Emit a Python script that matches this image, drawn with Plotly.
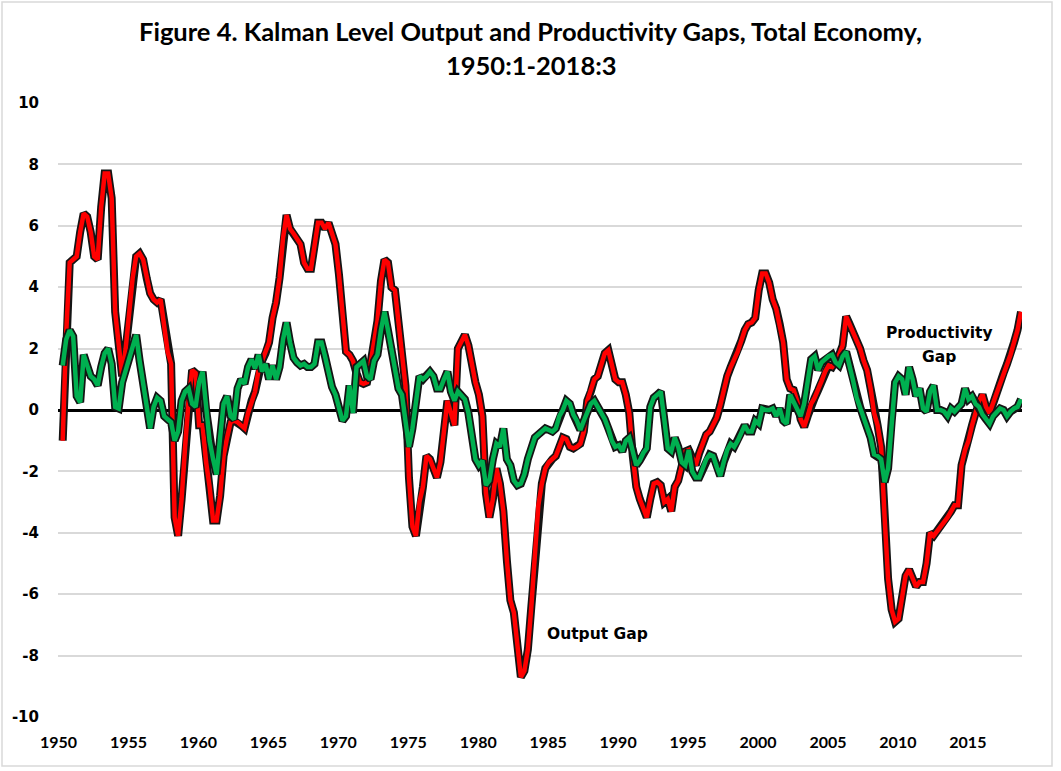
import plotly.graph_objects as go

# Quarterly data, 1950:1 - 2018:3
start_year = 1950
output_gap = [
    -1.0, 2.5, 4.8, 4.9, 5.0, 5.8, 6.4, 6.3, 5.8, 5.0, 4.9, 6.6, 7.7, 7.7, 6.9, 3.2,
    2.0, 1.1, 2.0, 3.2, 4.3, 5.0, 5.1, 4.9, 4.3, 3.8, 3.6, 3.5, 3.6, 2.8, 1.9, 1.5,
    -3.5, -4.1, -2.9, -1.2, 0.3, 1.3, 1.2, -0.5, -0.5, -1.7, -2.5, -3.6, -3.6, -2.8, -1.5, -0.9,
    -0.4, -0.35, -0.4, -0.5, -0.6, -0.1, 0.3, 0.6, 1.3, 1.6, 1.85, 2.2, 3.0, 3.5, 4.3, 5.6,
    6.35, 5.9, 5.75, 5.6, 5.4, 4.8, 4.6, 4.6, 5.4, 6.1, 6.1, 5.9, 6.1, 5.7, 5.4, 4.4,
    3.0, 1.9, 1.8, 1.6, 1.2, 0.9, 0.85, 0.9, 1.5, 2.3, 2.9, 4.2, 4.9, 4.8, 4.0, 3.9,
    2.8, 1.8, 0.8, -2.2, -3.8, -4.1, -3.0, -2.5, -1.5, -1.6, -1.9, -2.2, -1.7, -0.6, 0.3, -0.1,
    -0.5, 2.0, 2.2, 2.45, 2.1, 1.4, 0.9, 0.5, -0.2, -2.7, -3.5, -2.9, -1.9, -2.4, -3.3, -4.9,
    -6.2, -6.6, -7.6, -8.7, -8.5, -7.8, -6.4, -4.8, -3.1, -2.4, -1.9, -1.7, -1.6, -1.5, -1.2, -0.9,
    -0.95, -1.2, -1.25, -1.2, -1.1, -0.7, 0.3, 0.6, 1.0, 1.1, 1.5, 1.85, 1.95, 1.4, 1.0, 0.9,
    0.9, 0.5, -0.1, -1.5, -2.5, -2.9, -3.2, -3.5, -2.9, -2.4, -2.35, -2.45, -3.0, -2.9, -3.3, -2.5,
    -2.3, -1.85, -1.35, -1.3, -1.55, -1.8, -1.4, -1.05, -0.8, -0.7, -0.5, -0.25, 0.15, 0.7, 1.1, 1.4,
    1.65, 1.9, 2.25, 2.6, 2.8, 2.85, 3.0, 3.9, 4.45, 4.45, 4.15, 3.6, 3.3, 2.8, 2.2, 1.0,
    0.7, 0.65, 0.3, -0.3, -0.55, -0.2, 0.2, 0.4, 0.65, 0.95, 1.25, 1.45, 1.4, 1.55, 1.8, 2.1,
    3.05, 2.8, 2.55, 2.3, 2.0, 1.6, 1.3, 0.7, -0.1, -0.5, -1.2, -3.5, -5.5, -6.5, -6.9, -6.8,
    -6.1, -5.4, -5.2, -5.5, -5.75, -5.6, -5.6, -5.0, -4.0, -4.1, -3.95, -3.8, -3.7, -3.5, -3.3, -3.1,
    -3.1, -1.8, -1.3, -1.0, -0.5, -0.1, 0.3, 0.5, 0.1, -0.1, 0.2, 0.6, 0.9, 1.2, 1.5, 1.8,
    2.2, 2.6, 3.2,
]
productivity_gap = [
    1.45, 2.3, 2.6, 2.4, 0.45, 0.25, 1.8, 1.4, 1.1, 1.0, 0.8, 1.4, 1.85, 2.0, 1.5, 0.1,
    0.05, 0.9, 1.3, 1.7, 2.1, 2.45, 1.6, 0.8, 0.05, -0.6, 0.1, 0.4, 0.3, -0.2, -0.3, -0.4,
    -1.0, -0.7, 0.3, 0.6, 0.7, 0.2, 0.1, 0.9, 1.25, 0.0, -1.0, -1.6, -2.1, -0.9, 0.2, 0.45,
    -0.2, -0.3, 0.7, 1.0, 0.85, 1.4, 1.65, 1.35, 1.8, 1.25, 1.5, 1.0, 1.45, 1.0, 1.4, 2.3,
    2.85, 2.2, 1.7, 1.55, 1.45, 1.5, 1.4, 1.4, 1.5, 2.2, 2.2, 1.75, 1.2, 0.75, 0.5, 0.0,
    -0.35, -0.2, 0.8, -0.1, 1.4, 1.5, 1.6, 1.1, 1.0, 1.6, 1.8, 2.6, 3.2, 2.6, 1.9, 1.4,
    0.7, 0.5, -0.3, -1.2, -0.6, 0.2, 1.1, 1.0, 1.1, 1.25, 1.1, 0.7, 0.7, 1.0, 1.25, 0.6,
    0.3, 0.6, 0.45, 0.35, -0.1, -0.9, -1.6, -1.8, -1.65, -2.45, -2.3, -1.6, -1.1, -1.2, -0.6, -1.6,
    -1.8, -2.3, -2.45, -2.4, -2.1, -1.6, -1.2, -0.9, -0.8, -0.7, -0.6, -0.65, -0.7, -0.6, -0.2, 0.0,
    0.3, 0.2, -0.15, -0.35, -0.65, -0.35, -0.05, 0.2, 0.3, 0.1, -0.05, -0.3, -0.6, -1.0, -1.2, -1.15,
    -1.35, -1.0, -0.9, -1.3, -1.8, -1.65, -1.4, -1.25, 0.1, 0.4, 0.5, 0.6, -0.3, -1.25, -1.35, -0.9,
    -1.2, -1.7, -1.8, -1.3, -2.0, -2.2, -2.2, -1.9, -1.6, -1.45, -1.5, -1.85, -2.15, -1.7, -1.3, -1.1,
    -1.2, -1.0, -0.7, -0.5, -0.7, -0.7, -0.35, -0.45, 0.05, 0.0, 0.0, 0.05, -0.2, 0.05, -0.35, -0.45,
    0.5, 0.25, 0.05, -0.2, 0.2, 0.95, 1.65, 1.75, 1.3, 1.55, 1.65, 1.75, 1.8, 1.55, 1.45, 1.75,
    1.9, 1.45, 0.95, 0.4, 0.1, -0.25, -0.55, -0.9, -1.45, -1.5, -1.6, -2.35, -1.9, -0.4, 0.9, 1.1,
    1.0, 0.5, 1.4, 1.0, 0.45, 0.7, 0.05, -0.05, 0.6, 0.8, 0.0, 0.0, -0.05, -0.2, 0.05, -0.05,
    0.1, 0.2, 0.7, 0.35, 0.45, 0.2, 0.1, -0.15, -0.3, -0.45, -0.2, -0.05, 0.05, 0.0, -0.2, -0.05,
    0.05, 0.1, 0.35,
]
tick_years = list(range(1950, 2016, 5))
y_tick_values = list(range(-10, 11, 2))
title_lines = ["Figure 4. Kalman Level Output and Productivity Gaps, Total Economy,",
               "1950:1-2018:3"]

x_years = [start_year + i / 4 for i in range(len(output_gap))]

TITLE_FONT = "Lato, Carlito, Calibri, sans-serif"
WIDE_FONT = "DejaVu Sans, Verdana, sans-serif"
fig = go.Figure()
for vals, color, name in [(output_gap, "#FF0000", "Output Gap"),
                          (productivity_gap, "#00B050", "Productivity Gap")]:
    fig.add_trace(go.Scatter(x=x_years, y=vals, mode="lines",
                             line=dict(color="#141414", width=8),
                             hoverinfo="skip", showlegend=False))
    fig.add_trace(go.Scatter(x=x_years, y=vals, mode="lines", name=name,
                             line=dict(color=color, width=4.5),
                             showlegend=False))

W, H = 1061, 771
L, R, T, B = 58, 39, 103, 54
pw, ph = W - L - R, H - T - B

def px(xp):
    return (xp - L) / pw

def py(yp):
    return (H - B - yp) / ph

def label(text, xp, yp, size, family):
    return dict(text=f"<b>{text}</b>", x=px(xp), y=py(yp), xref="paper", yref="paper",
                showarrow=False, xanchor="center", yanchor="middle",
                font=dict(family=family, size=size, color="black"))

annotations = [
    label(title_lines[0], 530, 31, 25.5, TITLE_FONT),
    label(title_lines[1], 531, 65, 25.5, TITLE_FONT),
    label("Output Gap", 597, 634, 15.5, WIDE_FONT),
    label("Productivity", 939, 333, 15.5, WIDE_FONT),
    label("Gap", 939, 357, 15.5, WIDE_FONT),
]

fig.update_layout(
    width=W, height=H,
    margin=dict(l=L, r=R, t=T, b=B, pad=0),
    paper_bgcolor="white", plot_bgcolor="white",
    annotations=annotations,
    shapes=[dict(type="rect", xref="paper", yref="paper",
                 x0=px(2), x1=px(1052), y0=py(766), y1=py(2),
                 line=dict(color="#d9d9d9", width=1.5), fillcolor="rgba(0,0,0,0)",
                 layer="below")],
    xaxis=dict(range=[1949.664, 2018.571],
               tickvals=[y - 0.3 for y in tick_years],
               ticktext=[f"<b>{y}</b>" for y in tick_years],
               showgrid=False, zeroline=False, showline=False, ticks="",
               ticklabelstandoff=14,
               tickfont=dict(family=TITLE_FONT, size=16, color="black")),
    yaxis=dict(range=[-10, 10], tickvals=y_tick_values,
               ticktext=[f"<b>{v}</b>" for v in y_tick_values],
               showgrid=True, gridcolor="#d9d9d9", gridwidth=1.5,
               zeroline=True, zerolinecolor="black", zerolinewidth=2.5,
               showline=False, ticks="", ticklabelstandoff=18,
               tickfont=dict(family=WIDE_FONT, size=15, color="black")),
)

fig.write_html("out.html", config={"displayModeBar": False},
               post_script="document.body.style.margin='0';")
